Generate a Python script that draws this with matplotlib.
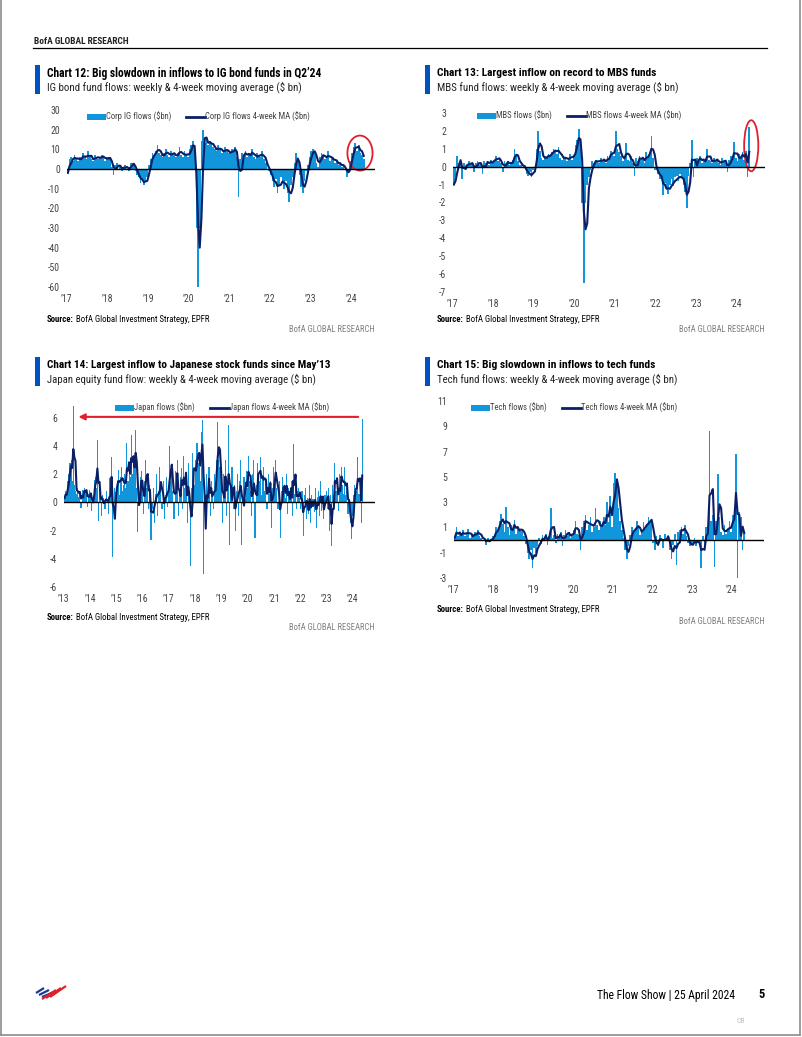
import numpy as np
import pandas as pd
import matplotlib
matplotlib.use("Agg")
import matplotlib.pyplot as plt
from matplotlib.patches import Rectangle, Patch, Ellipse
from matplotlib.lines import Line2D

plt.rcParams['font.family'] = ['Roboto Condensed', 'Archivo Narrow', 'Roboto', 'DejaVu Sans']

# ================= data: semi-monthly flows ($bn) =================

ig_flows = [
    -2, 5, 6, 4, 7, 5, 4, 6, 5, 8, 6, 5, 9, 6, 5, 4, 7, 6, 5, 6, 7, 6, 4, 6,
    6, 5, 1, -3, 2, 3, 0, 2, -1, 1, 2, 0, -1, 3, 3, 2, -1, -3, -4, -7, -5, -8, -6, -4,
    2, 5, 8, 7, 9, 12, 8, 7, 6, 8, 10, 7, 6, 9, 8, 7, 6, 8, 11, 7, 6, 9, 7, 6,
    10, 12, 14, 9, -30, -60, -30, 14, 20, 13, 15, 12, 14, 13, 11, 10, 9, 12, 10, 8, 9, 11, 9, 8,
    8, 10, 9, 11, 6, -14, 5, 8, 7, 9, 6, 8, 7, 10, 6, 5, 8, 7, 6, 9, 5, 3, 0, -1,
    -3, -6, -9, -5, -12, -8, -4, -7, -10, -6, -12, -17, -8, -4, 3, 8, 5, -3, -9, -12, -6, -1, 2, 6,
    9, 10, 8, 3, 1, 6, 8, 7, 5, 6, 9, 4, 5, 6, 3, 4, 2, 3, 1, 2, 0, -4, -1, 4,
    8, 11, 13, 9, 12, 8, 7, 5,
]

mbs_flows = [
    -1.0, -0.6, 0.6, 0.2, 0.3, -0.7, 0.2, 0.1, 0.0, 0.3, 0.2, 0.1, -0.3, 0.2, 0.3, 0.1, 0.2, -0.4, 0.3, 0.2, 0.3, 0.1, 0.4, 0.2,
    0.4, 0.6, 0.3, 0.5, 0.2, -0.3, 0.3, 0.2, 0.3, 0.1, 0.2, 0.4, 1.0, 0.6, 0.3, 0.1, 0.2, -0.1, 0.0, -0.4, -0.5, -0.3, -0.6, -0.2,
    0.0, 1.0, 2.0, 0.9, 0.5, 0.4, 0.6, 0.5, 0.7, 0.6, 0.8, 1.0, 0.9, 0.7, 1.1, 0.5, 0.4, 0.6, 0.5, 0.3, 0.5, 0.7, 0.4, 0.6,
    1.2, 1.5, 2.1, 1.0, -2.0, -6.5, -2.0, -1.0, -0.6, -0.2, 0.3, 0.2, 0.4, 0.3, 0.2, 0.5, 0.3, 0.4, 0.2, 0.6, 0.5, 0.9, 0.8, 0.6,
    2.0, 1.0, 0.8, 0.6, 0.3, 0.5, 1.3, 0.4, 0.3, 0.6, 0.2, -0.5, 0.5, 0.3, 0.6, 0.4, 0.5, 0.2, 0.8, 0.6, 0.7, 1.7, 0.5, -0.2,
    -0.2, -0.4, -0.7, -0.5, -1.6, -0.9, -1.2, -1.5, -1.0, -0.7, -1.1, -0.6, -0.5, -0.8, -0.4, -0.6, -1.0, -1.4, -2.3, -0.5, 0.2, 1.5, -0.6, 0.3,
    0.5, 0.3, 0.6, 0.2, 0.4, 0.3, 1.0, 0.4, 0.3, 0.2, 0.5, 0.3, 0.4, 0.2, 0.1, 0.5, 0.3, 0.2, -0.3, 0.4, 0.6, 0.3, 1.4, 0.5,
    0.3, 0.7, 0.5, 0.8, 0.4, 0.9, -0.6, 2.2,
]

japan_flows = [
    0.3, 0.8, 0.5, 1.5, 2.0, 2.8, 3.0, 1.5, 6.8, 1.2, 0.8, 0.6, 1.0, 0.4, 0.8, -0.4, 0.9, 0.5, 1.0, 0.7, 0.9, -0.3, 0.6, 0.9,
    0.4, -0.6, 0.2, 1.6, 1.8, 1.0, 4.4, -1.3, 1.2, 0.8, -1.0, 0.5, 0.3, -0.5, 0.8, 0.2, -0.8, 1.7, 0.5, 3.2, -3.9, -0.6, 1.0, 0.7,
    1.5, 2.3, 0.5, 1.8, 2.5, 0.8, 1.2, 2.0, 1.0, 4.2, 1.5, 2.8, 1.8, 4.8, 2.0, 3.0, 2.4, 5.1, 1.0, -2.1, 0.5, 1.8, 2.2, 0.6,
    -0.8, 1.5, 3.0, 1.0, 2.0, -0.5, 1.2, -2.7, -0.5, 1.0, -1.5, 0.6, 2.0, -1.0, 0.8, 2.5, 1.0, -0.5, 1.5, -1.2, 0.5, 1.8, -0.3, 0.9,
    4.0, 1.5, 2.5, 0.8, -1.2, 2.2, 1.0, 3.0, -1.0, 0.5, 1.8, 2.4, -0.5, 3.3, 1.0, 2.0, -1.5, 2.8, 0.5, -4.5, 1.0, 3.5, 2.5, 1.2,
    3.0, 4.2, 2.8, 3.5, 1.5, 5.0, 5.8, -5.1, 1.0, -1.5, 2.0, 0.5, 2.5, -1.0, 1.5, 0.8, -0.5, 2.0, 1.0, 3.0, 5.7, 3.0, 2.5, 1.5,
    -1.5, 2.0, 0.5, 3.0, -1.0, 1.5, 5.5, -3.0, 1.0, 2.5, -0.5, 1.2, -2.0, 0.8, 2.0, -1.0, 1.5, 3.0, -3.0, 0.5, 1.8, 0.2, 2.2, 1.0,
    3.3, 1.5, 0.8, -1.0, 2.0, 3.0, -2.5, 1.2, 2.8, 2.0, 1.5, 3.2, 0.5, 1.8, 2.5, 0.8, 1.5, -0.5, 2.0, 0.6, 1.5, -1.8, 1.0, 2.5,
    0.8, 3.0, 1.0, -0.5, 1.5, -2.5, 0.8, 1.8, 0.5, 1.2, 0.3, 2.0, -0.8, 1.0, 0.5, 1.5, -1.0, 4.1, 0.6, 1.2, -0.5, 0.8, 1.0, 0.3,
    -0.5, 0.8, -2.4, 0.5, 1.0, -1.2, 0.3, -0.8, 1.2, -1.5, 0.5, 0.2, -0.7, 1.0, -1.8, 0.4, 0.8, -1.0, 1.5, -0.6, 0.3, -1.2, 0.5, 0.8,
    -0.5, 1.0, -2.0, 0.5, -3.1, 1.2, 0.5, 2.8, 0.8, 1.5, -0.6, 2.0, 1.0, 2.5, 1.2, 0.6, 2.5, 0.5, 1.0, -0.8, 0.2, -1.5, -2.6, -1.0,
    0.5, 1.2, 1.0, 0.8, 3.2, 0.6, 1.3, -1.5, 5.9,
]

tech_flows = [
    0.2, 1.0, 0.3, 0.5, 0.4, 0.8, 0.3, 0.5, 0.9, 0.2, 0.4, 0.3, 0.6, 0.4, 0.8, 0.3, 0.2, 0.0, 0.1, -0.4, 0.2, -0.1, 0.0, 0.3,
    0.5, 1.0, 0.7, 1.5, 2.1, 1.3, 0.6, 2.6, 1.0, 0.4, 1.2, 0.8, 1.6, 0.5, 1.0, 0.8, 0.7, 0.9, 0.3, -0.3, -1.0, -1.5, -0.8, -2.2,
    -0.6, -1.0, -0.5, 0.2, -0.3, 0.4, 0.1, 0.5, -0.4, 0.3, 2.5, 0.2, 0.4, -0.2, 0.5, 0.3, 0.6, -0.5, 0.4, 0.8, 0.3, 0.6, 0.2, 0.5,
    0.8, 1.5, 0.5, 0.4, -0.8, 1.0, 1.5, 2.0, 0.8, 1.2, 1.8, 0.6, 1.0, 2.5, 1.2, 0.8, 1.5, 1.0, 1.8, 1.2, 3.0, 1.4, 3.5, 1.0,
    4.5, 5.3, 4.6, 2.5, 1.5, 0.8, 0.2, -0.8, -1.5, -0.5, 0.4, 1.0, 0.6, 0.8, 1.5, 1.0, 0.4, 0.6, 1.4, 0.9, 1.2, 1.8, 1.4, 1.6,
    -0.2, -0.8, 0.3, -0.5, 0.4, 0.2, -0.6, 0.5, 0.1, 0.3, -0.8, -1.5, -0.4, 0.5, -2.0, 0.6, 0.8, 1.0, 0.5, 1.2, 0.3, -0.2, -0.5, -0.3,
    -0.3, 0.2, -0.5, 0.0, -0.2, -2.2, 0.3, -0.4, 1.0, 1.0, 8.6, 1.5, 2.0, -2.1, 1.5, 5.2, 1.8, 0.6, 0.4, 1.2, 0.5, 0.8, 1.5, 0.6,
    2.0, 2.4, 6.8, -3.0, 2.2, 1.8, -0.8, 0.7,
]

ig_yticks = [30, 20, 10, 0, -10, -20, -30, -40, -50, -60]
mbs_yticks = [3, 2, 1, 0, -1, -2, -3, -4, -5, -6, -7]
japan_yticks = [6, 4, 2, 0, -2, -4, -6]
tech_yticks = [11, 9, 7, 5, 3, 1, -1, -3]
years_17 = list(range(2017, 2025))
years_13 = list(range(2013, 2025))

LIGHT = '#1296DB'
NAVY = '#0A1F66'
TITLE_BLUE = '#0052C2'
RED = '#E0202B'
TXT = '#444444'

W, H = 802, 1037
fig = plt.figure(figsize=(W / 100, H / 100), dpi=100)
renderer = fig.canvas.get_renderer()


def fx(x):
    return x / W


def fy(y):
    return 1 - y / H


def fit(t, width):
    # scale the font so the text is as wide as on the page
    w = t.get_window_extent(renderer).width
    t.set_fontsize(t.get_fontsize() * width / w)
    return t.get_fontsize()


def add_ax(l, t, r, b):
    return fig.add_axes([fx(l), fy(b), (r - l) / W, (b - t) / H])


LEG_FS = 6.2
LEG_EM = LEG_FS * 100 / 72
TICK_FS = 7


def draw_panel(ax, start, flows, xmax, ylim, yticks, years):
    s = pd.Series(flows, dtype=float)
    x = start + (np.arange(len(s)) + 0.5) / 24
    ma = s.rolling(3, min_periods=1).mean()  # ~4-6 weeks on the half-month grid
    ax.bar(x, s, width=1 / 24, color=LIGHT, linewidth=0)
    ax.plot(x, ma, color=NAVY, lw=1.5)
    ax.axhline(0, color='black', lw=1)
    ax.set_xlim(start, xmax)
    ax.set_ylim(*ylim)
    ax.set_yticks(yticks)
    ax.set_yticklabels([str(v) for v in yticks])
    ax.set_xticks(years)
    ax.set_xticklabels(['\u2019' + str(y)[2:] for y in years])
    for sp in ax.spines.values():
        sp.set_visible(False)
    ax.tick_params(length=0, labelsize=TICK_FS, colors=TXT, pad=5)
    ax.tick_params(axis='x', pad=5)
    ax.patch.set_alpha(0)


def legend(ax, labels, x, y):
    handles = [Patch(facecolor=LIGHT, edgecolor='none'), Line2D([0], [0], color=NAVY, lw=2)]
    ax.legend(handles, labels, ncol=2, frameon=False, loc='center left',
              bbox_to_anchor=(fx(x), fy(y)), bbox_transform=fig.transFigure,
              fontsize=LEG_FS, handlelength=19 / LEG_EM, handletextpad=0.0,
              columnspacing=15 / LEG_EM, borderpad=0, borderaxespad=0, labelcolor=TXT)


def title_block(x, y, title, subtitle, tw, sw):
    fig.add_artist(Rectangle((fx(x), fy(y + 29)), 4.5 / W, 29 / H, transform=fig.transFigure,
                             facecolor=TITLE_BLUE, edgecolor='none'))
    t = fig.text(fx(x + 12), fy(y + 8), title, fontsize=9.5, fontweight='bold', color='black', va='center')
    fit(t, tw)
    s = fig.text(fx(x + 12), fy(y + 22), subtitle, fontsize=9.5, color='#222222', va='center')
    fit(s, sw)


def source_block(ax, x, y, rx, ry):
    t1 = fig.text(fx(x), fy(y), 'Source:', fontsize=7, fontweight='bold', color='black', va='center')
    t2 = fig.text(0, 0, ' BofA Global Investment Strategy, EPFR', fontsize=7)
    w = t1.get_window_extent(renderer).width + t2.get_window_extent(renderer).width
    t2.remove()
    fs = 7 * 165 / w
    t1.set_fontsize(fs)
    ax.annotate(' BofA Global Investment Strategy, EPFR', xy=(1, 0.5), xycoords=t1,
                va='center', ha='left', fontsize=fs, color='black', annotation_clip=False)
    r = fig.text(fx(rx), fy(ry), 'BofA GLOBAL RESEARCH', fontsize=7, color='#808080', ha='right', va='center')
    fit(r, 86)


# ---- page header ----
hd = fig.text(fx(34), fy(41), 'BofA GLOBAL RESEARCH', fontsize=6, fontweight='bold',
              color='#222222', va='center')
fit(hd, 95)
fig.add_artist(Line2D([fx(33), fx(767)], [fy(48), fy(48)], color='black', lw=0.9))

# ---- Chart 12 ----
title_block(35, 65, 'Chart 12: Big slowdown in inflows to IG bond funds in Q2\u201924',
            'IG bond fund flows: weekly & 4-week moving average ($ bn)', 276, 254)
ax12 = add_ax(67, 110, 375, 287)
draw_panel(ax12, 2017, ig_flows, 2024.59, (-60, 30), ig_yticks, years_17)
legend(ax12, ['Corp IG flows ($bn)', 'Corp IG flows 4-week MA ($bn)'], 87, 117)
ax12.add_patch(Ellipse((2024.22, 8.1), 0.62, 17.8, fill=False, edgecolor=RED, lw=1.3, clip_on=False))
source_block(ax12, 47, 320, 375, 330)

# ---- Chart 13 ----
title_block(425, 65, 'Chart 13: Largest inflow on record to MBS funds',
            'MBS fund flows: weekly & 4-week moving average ($ bn)', 221, 241)
ax13 = add_ax(453, 113, 765, 292)
draw_panel(ax13, 2017, mbs_flows, 2024.70, (-7, 3), mbs_yticks, years_17)
legend(ax13, ['MBS flows ($bn)', 'MBS flows 4-week MA ($bn)'], 477, 116)
ax13.add_patch(Ellipse((2024.36, 1.17), 0.35, 2.85, fill=False, edgecolor=RED, lw=1.3, clip_on=False))
source_block(ax13, 437, 319, 765, 330)

# ---- Chart 14 ----
title_block(35, 357, 'Chart 14: Largest inflow to Japanese stock funds since May\u201913',
            'Japan equity fund flow: weekly & 4-week moving average ($ bn)', 285, 270)
ax14 = add_ax(64, 395, 375, 587)
draw_panel(ax14, 2013, japan_flows, 2024.84, (-6, 7.6), japan_yticks, years_13)
legend(ax14, ['Japan flows ($bn)', 'Japan flows 4-week MA ($bn)'], 115, 408)
ax14.annotate('', xy=(2013.55, 6.05), xytext=(2024.2, 6.05),
              arrowprops=dict(arrowstyle='-|>', color=RED, lw=1.5, mutation_scale=9, shrinkA=0, shrinkB=0))
source_block(ax14, 47, 617, 375, 628)

# ---- Chart 15 ----
title_block(425, 357, 'Chart 15: Big slowdown in inflows to tech funds',
            'Tech fund flows: weekly & 4-week moving average ($ bn)', 219, 241)
ax15 = add_ax(454, 401, 764, 578)
draw_panel(ax15, 2017, tech_flows, 2024.81, (-3, 11), tech_yticks, years_17)
legend(ax15, ['Tech flows ($bn)', 'Tech flows 4-week MA ($bn)'], 471, 408)
source_block(ax15, 437, 610, 765, 622)

# ---- footer ----
for i in range(3):
    fig.add_artist(Line2D([fx(36 + 3 * i), fx(44 + 5 * i)], [fy(993 + 2 * i), fy(988 + 2 * i)],
                          color='#1A3A8F', lw=1.6, solid_capstyle='butt'))
for i in range(3):
    fig.add_artist(Line2D([fx(42 + 4 * i), fx(56 + 5 * i)], [fy(999 - i), fy(990 - 2 * i)],
                          color=RED, lw=1.6, solid_capstyle='butt'))
ft = fig.text(fx(735), fy(995), 'The Flow Show | 25 April 2024', fontsize=8.5, color='black', ha='right', va='center')
fit(ft, 137)
fig.text(fx(762), fy(995), '5', fontsize=9, fontweight='bold', color='black', ha='center', va='center')
fig.text(fx(741), fy(1021), 'CR', fontsize=5.5, color='#BBBBBB', ha='center', va='center')

# ---- page border ----
for xs, ys in [([1, 1], [0, 1035]), ([800, 800], [0, 1035]), ([1, 800], [1035, 1035])]:
    fig.add_artist(Line2D([fx(xs[0]), fx(xs[1])], [fy(ys[0]), fy(ys[1])], color='#8C8C8C', lw=1.2))

fig.savefig('out.png', dpi=100)
